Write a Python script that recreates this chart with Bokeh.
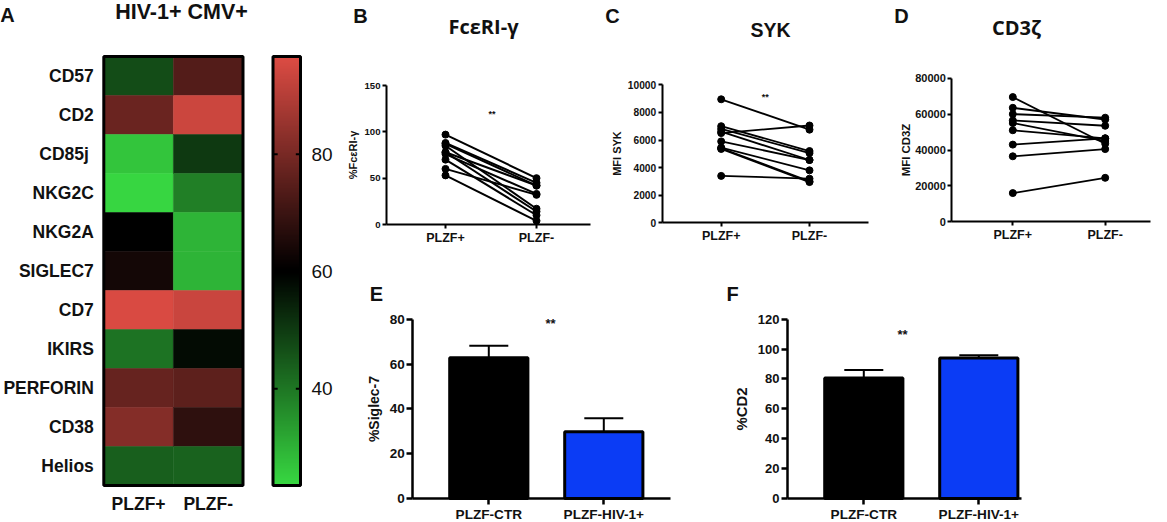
import numpy as np

from bokeh.embed import file_html
from bokeh.layouts import column, row
from bokeh.models import BoxAnnotation, ColumnDataSource, FixedTicker, Label, LinearAxis, LinearColorMapper, TeeHead, Whisker
from bokeh.plotting import figure
from bokeh.resources import INLINE

# panel A, rows listed top to bottom
markers = ["CD57", "CD2", "CD85j ", "NKG2C", "NKG2A", "SIGLEC7", "CD7", "IKIRS", "PERFORIN", "CD38", "Helios"]
heat_groups = ["PLZF+", "PLZF-"]
heat_plus = [47, 77.8, 26.9, 24, 60.2, 63.7, 96, 40.4, 77.2, 82, 44]
heat_minus = [74, 93.8, 50.3, 38.4, 29.7, 29.7, 93.4, 57.9, 75.8, 68, 43.3]
scale_ticks = [40, 60, 80]

# panels B, C, D (paired)
paired_labels = ["PLZF+", "PLZF-"]
fceri_plus = [97, 88, 85, 78, 76, 78, 70, 60, 53, 87]
fceri_minus = [50, 45, 17, 42, 33, 14, 10, 32, 4, 42]
syk_plus = [8950, 7000, 6800, 6500, 6600, 5900, 5450, 5400, 5350, 3400]
syk_minus = [6750, 5200, 5050, 7050, 4550, 4550, 3800, 3000, 2950, 3200]
cd3z_plus = [69500, 63500, 60000, 56500, 55000, 51000, 43000, 36500, 16000]
cd3z_minus = [43500, 57000, 58000, 53500, 45000, 46500, 46500, 40500, 24500]

# panels E, F (bars)
bar_labels = ["PLZF-CTR", "PLZF-HIV-1+"]
bar_colors = ["#000000", "#0b3cf5"]
siglec_means = [62.8, 29.8]
siglec_errs = [5.4, 6.0]
cd2_means = [80.6, 94]
cd2_errs = [5.4, 1.8]

SANS = "Liberation Sans"
NOTO = "Open Sans"


def base_figure(width, height, x_range, y_range):
    # the frame fills the figure: texts outside a frame get clipped, so the axes are pinned inside it
    p = figure(width=width, height=height, x_range=x_range, y_range=y_range,
               min_border=0, toolbar_location=None, output_backend="svg")
    p.grid.visible = False
    p.outline_line_color = None
    p.background_fill_color = None
    p.border_fill_color = None
    return p


def plot_figure(width, height, axis_px, tick1_px, tick2_px, end_px, top_px, zero_px, y_max):
    x_unit = tick2_px - tick1_px
    y_unit = (zero_px - top_px) / y_max
    p = base_figure(width, height,
                    (1 - tick1_px / x_unit, 1 + (width - tick1_px) / x_unit),
                    (-(height - zero_px) / y_unit, zero_px / y_unit))
    axis_x = 1 - (tick1_px - axis_px) / x_unit
    p.yaxis.fixed_location = axis_x
    p.yaxis.bounds = (0, y_max)
    p.xaxis.fixed_location = 0
    p.xaxis.bounds = (axis_x, 1 + (end_px - tick1_px) / x_unit)
    return p


def style_axes(p, ticks, labels, y_ticks, tick_font, x_font, y_label, y_font, line_w, tick_out, standoff, label_standoff):
    p.xaxis.ticker = FixedTicker(ticks=ticks)
    p.xaxis.major_label_overrides = dict(zip(ticks, labels))
    p.yaxis.ticker = FixedTicker(ticks=y_ticks)
    p.yaxis.axis_label = y_label
    p.yaxis.axis_label_text_font = SANS
    p.yaxis.axis_label_text_font_size = y_font
    p.yaxis.axis_label_text_font_style = "bold"
    p.yaxis.axis_label_text_color = "#111111"
    p.yaxis.axis_label_standoff = label_standoff
    p.xaxis.major_label_text_font_size = x_font
    p.yaxis.major_label_text_font_size = tick_font
    for ax in (p.xaxis, p.yaxis):
        ax.major_label_text_font = SANS
        ax.major_label_text_font_style = "bold"
        ax.major_label_text_color = "#111111"
        ax.axis_line_color = "black"
        ax.axis_line_width = line_w
        ax.major_tick_line_color = "black"
        ax.major_tick_line_width = line_w
        ax.major_tick_out = tick_out
        ax.major_tick_in = 0
        ax.minor_tick_line_color = None
        ax.major_label_standoff = standoff
    p.yaxis.major_label_orientation = "horizontal"


def add_text(p, text, cx, cy, size, font=SANS, style="bold"):
    # cx, cy from the figure's top-left corner
    p.add_layout(Label(x=cx, y=p.height - cy, x_units="screen", y_units="screen", text=text,
                       text_font=font, text_font_size=size, text_font_style=style,
                       text_align="center", text_baseline="middle", text_color="#111111"))


def stars(p, x, y, size):
    p.add_layout(Label(x=x, y=y, text="**", text_font=SANS, text_font_size=size, text_font_style="bold",
                       text_align="center", text_baseline="middle", text_color="#111111"))


def paired_panel(width, px, y_max, y_ticks, plus, minus, tick_font, y_label, y_font, line_w, label_standoff):
    p = plot_figure(width, 260, *px, y_max)
    style_axes(p, [1, 2], paired_labels, y_ticks, tick_font, "12.5px", y_label, y_font, 2, 4, 2, label_standoff)
    for a, b in zip(plus, minus):
        src = ColumnDataSource(data=dict(x=[1, 2], y=[a, b]))
        p.line("x", "y", source=src, line_color="black", line_width=line_w)
        p.scatter("x", "y", source=src, size=7, color="black")
    return p


def bar_panel(width, px, y_max, y_ticks, means, errs, y_label, y_font, tick_font, label_standoff):
    p = plot_figure(width, 262, *px, y_max)
    style_axes(p, [1, 2], bar_labels, y_ticks, tick_font, "13.6px", y_label, y_font, 2.5, 6, 2, label_standoff)
    src = ColumnDataSource(data=dict(x=[1, 2], top=means, color=bar_colors,
                                     upper=[m + e for m, e in zip(means, errs)]))
    p.add_layout(Whisker(base="x", lower="top", upper="upper", source=src, dimension="height",
                         lower_head=None, upper_head=TeeHead(size=39, line_color="black", line_width=2),
                         line_color="black", line_width=2))
    p.vbar(x="x", top="top", bottom=0, width=0.68, fill_color="color", line_color="black", line_width=3, source=src)
    return p


# panel A
mapper_palette = []
for i in range(128):
    f = 1 - i / 127
    mapper_palette.append("#%02x%02x%02x" % (int(56 * f), int(216 * f), int(66 * f)))
for i in range(128):
    f = i / 127
    mapper_palette.append("#%02x%02x%02x" % (int(221 * f), int(76 * f), int(68 * f)))
LOW, HIGH = 23.5, 96.7
mapper = LinearColorMapper(palette=mapper_palette, low=LOW, high=HIGH)

col_px, row_px = 69.6, 39
pa = base_figure(255, 522, (-103.3 / col_px, (255 - 103.3) / col_px), (-(522 - 485) / row_px, 485 / row_px))
n = len(markers)
row_pos = [n - 0.5 - i for i in range(n)]
heat_src = ColumnDataSource(data=dict(x=[0.5] * n + [1.5] * n, y=row_pos + row_pos, v=heat_plus + heat_minus))
pa.rect("x", "y", 1, 1, source=heat_src, fill_color={"field": "v", "transform": mapper},
        line_color={"field": "v", "transform": mapper}, line_width=0.5)
pa.add_layout(BoxAnnotation(left=0, right=2, bottom=0, top=n, fill_color=None, line_color="black",
                            line_alpha=1, line_width=3))
pa.xaxis.fixed_location = 0
pa.yaxis.fixed_location = 0
pa.xaxis.ticker = FixedTicker(ticks=[0.5, 1.5])
pa.xaxis.major_label_overrides = dict(zip([0.5, 1.5], heat_groups))
pa.yaxis.ticker = FixedTicker(ticks=row_pos)
pa.yaxis.major_label_overrides = dict(zip(row_pos, markers))
pa.yaxis.major_label_orientation = "horizontal"
for ax in (pa.xaxis, pa.yaxis):
    ax.axis_line_color = None
    ax.major_tick_line_color = None
    ax.minor_tick_line_color = None
    ax.major_tick_out = 0
    ax.major_tick_in = 0
    ax.major_label_text_font = SANS
    ax.major_label_text_font_style = "bold"
    ax.major_label_text_font_size = "17.5px"
    ax.major_label_text_color = "#111111"
pa.yaxis.major_label_standoff = 10
pa.xaxis.major_label_standoff = 8
add_text(pa, "A", 7, 14, "20px")
add_text(pa, "HIV-1+ CMV+", 181, 11, "21.5px")

# colour scale of panel A, ticks sit inside the bar on both sides
bar_px = 27.5
scale_px = 429 / (HIGH - LOW)
pbar = base_figure(85, 522, (-17.5 / bar_px, (85 - 17.5) / bar_px), (LOW - 37 / scale_px, HIGH + 56 / scale_px))
pbar.image(image=[np.linspace(LOW, HIGH, 256).reshape(256, 1)], x=0, y=LOW, dw=1, dh=HIGH - LOW, color_mapper=mapper)
for x0, x1 in ((0, 0.17), (0.83, 1)):
    pbar.segment(x0=[x0] * len(scale_ticks), x1=[x1] * len(scale_ticks), y0=scale_ticks, y1=scale_ticks,
                 line_color="black", line_width=2)
pbar.add_layout(BoxAnnotation(left=0, right=1, bottom=LOW, top=HIGH, fill_color=None, line_color="black",
                              line_alpha=1, line_width=3))
pbar.xaxis.visible = False
pbar.yaxis.visible = False
pbar.add_layout(LinearAxis(ticker=FixedTicker(ticks=scale_ticks), fixed_location=1, axis_line_color=None,
                           major_tick_line_color=None, major_tick_in=0, major_tick_out=0, minor_tick_line_color=None,
                           major_label_text_font=SANS, major_label_text_font_size="19px", major_label_text_color="#111111",
                           major_label_standoff=11, major_label_orientation="horizontal"), "right")

# panel B
pb = paired_panel(260, (46, 105, 196, 250, 85, 224), 150, [0, 50, 100, 150],
                  fceri_plus, fceri_minus, "9.6px", "%FcεRI-γ", "11px", 2, 2)
stars(pb, 1.51, 119, "9px")
add_text(pb, "B", 20, 15, "20px")
add_text(pb, "FcεRI-γ", 143, 26, "20px", font=NOTO)

# panel C
pc = paired_panel(280, (61.7, 120.7, 209, 268, 84.3, 222.3), 10000, [0, 2000, 4000, 6000, 8000, 10000],
                  syk_plus, syk_minus, "10.2px", "MFI SYK", "11px", 1.8, 2)
stars(pc, 1.5, 9100, "9px")
add_text(pc, "C", 12, 15, "20px")
add_text(pc, "SYK", 170, 29, "19.5px")

# panel D
pd = paired_panel(280, (71.3, 132.3, 224.7, 270, 77.7, 221.3), 80000, [0, 20000, 40000, 60000, 80000],
                  cd3z_plus, cd3z_minus, "11px", "MFI CD3Z", "11.4px", 1.8, 0)
add_text(pd, "D", 21, 15, "20px")
add_text(pd, "CD3ζ", 136, 27, "20px", font=NOTO)

# panel E
pe = bar_panel(350, (72.3, 148.3, 263.3, 330, 58.7, 238), 80, [0, 20, 40, 60, 80], siglec_means, siglec_errs,
               "%Siglec-7", "14px", "13.5px", 4)
stars(pe, 1.536, 78, "13px")
add_text(pe, "E", 36, 33, "20px")

# panel F
pf = bar_panel(350, (97, 173.3, 288.3, 331, 58.7, 238), 120, [0, 20, 40, 60, 80, 100, 120], cd2_means, cd2_errs,
               "%CD2", "14.8px", "13px", 5)
stars(pf, 1.337, 110, "13px")
add_text(pf, "F", 42, 33, "20px")

# wrapped one by one, a plain row would line the frames of its figures up
top_row = row(column(pb), column(pc), column(pd))
bottom_row = row(column(pe), column(pf))
root = row(column(pa), column(pbar), column(top_row, bottom_row))
open("out.html", "w").write(file_html(root, INLINE))
